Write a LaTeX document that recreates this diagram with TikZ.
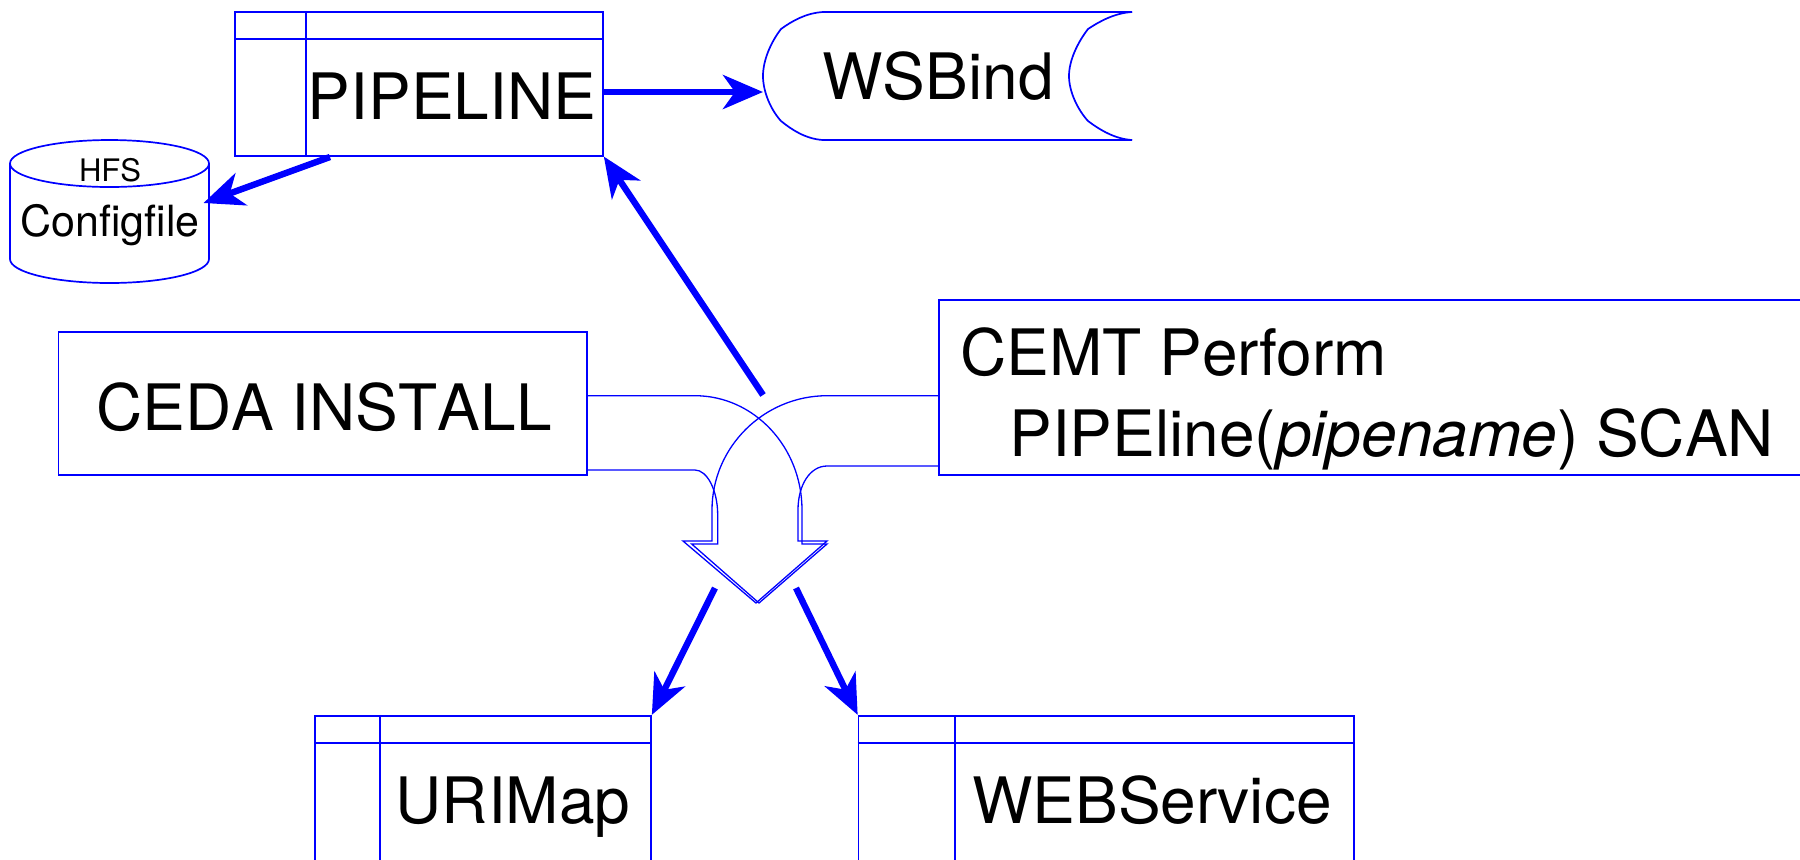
\documentclass[tikz,border=0pt]{standalone}
\usepackage{fontspec}
\setmainfont[Kerning=Off]{TeX Gyre Heros}
\usetikzlibrary{arrows.meta}
\tikzset{
	outline/.style={draw=blue,line width=0.85pt},%
	tablebox/.style={outline,inner sep=0pt},%
	flow/.style={blue,line width=3.2pt,-{Stealth[length=20pt,width=17pt,inset=6pt]}},%
	hollow/.style={blue,line width=0.65pt,line join=miter},%
	bigtext/.style={anchor=base,font=\fontsize{32}{38}\selectfont,inner sep=0pt},%
	midtext/.style={anchor=base,font=\fontsize{21.5}{25}\selectfont,inner sep=0pt},%
	smalltext/.style={anchor=base,font=\fontsize{15.5}{18}\selectfont,inner sep=0pt},%
}

\begin{document}
\begin{tikzpicture}[x=0.5pt,y=-0.5pt]
		\useasboundingbox (0,0) rectangle (1800,859);
		\clip (0,0) rectangle (1800,859);
		% Tables {{{
		\node[tablebox,minimum width=184pt,minimum height=72pt] (pipeline) at (419,83.7) {};
		\draw[outline] (pipeline.north west) ++(72,0) -- ++(0,144) (pipeline.north west) ++(0,28.3) -- ++(368,0);
		\node[bigtext] (pipelinetext) at (452,119) {PIPELINE};
		\node[tablebox,minimum width=168pt,minimum height=100pt] (urimap) at (483,815.7) {};
		\draw[outline] (urimap.north west) ++(66,0) -- ++(0,200) (urimap.north west) ++(0,28) -- ++(336,0);
		\node[bigtext] (urimaptext) at (513,823) {URIMap};
		\node[tablebox,minimum width=247.75pt,minimum height=100pt] (webservice) at (1106.25,815.7) {};
		\draw[outline] (webservice.north west) ++(97.5,0) -- ++(0,200) (webservice.north west) ++(0,28) -- ++(495.5,0);
		\node[bigtext] (webservicetext) at (1152,823) {WEBService};
		% }}}
		% Configfile {{{
		\draw[outline] (109.5,163.5) ellipse [x radius=49.75pt,y radius=11.75pt];
		\draw[outline] (10,163.5) -- (10,259) arc [start angle=180,end angle=360,x radius=49.75pt,y radius=12pt] -- (209,163.5);
		\node[smalltext] (hfs) at (110,181) {HFS};
		\node[midtext] (configfile) at (110,236) {Configfile};
		\coordinate (configfilein) at (203.5,203);
		% }}}
		% WSBind {{{
		\draw[outline] (1132,12) -- (823,12) .. controls (806,13) and (792,21) .. (781,29) .. controls (771,42) and (763,60) .. (763,76) .. controls (763,92) and (771,110) .. (781,121) .. controls (792,130) and (806,139) .. (823,140) -- (1132,140);
		\draw[outline] (1132,12) .. controls (1115,13) and (1100,21) .. (1088,29) .. controls (1078,42) and (1069,60) .. (1069,76) .. controls (1069,92) and (1078,110) .. (1088,121) .. controls (1100,130) and (1115,139) .. (1132,140);
		\node[bigtext] (wsbind) at (938,99) {WSBind};
		\coordinate (wsbindin) at (763,92);
		% }}}
		% Commands {{{
		\node[tablebox,minimum width=264.25pt,minimum height=71.5pt] (ceda) at (322.75,403.5) {};
		\node[bigtext] (cedatext) at (324,430) {CEDA INSTALL};
		\node[tablebox,minimum width=440pt,minimum height=87.5pt] (cemt) at (1379,387.5) {};
		\node[bigtext,anchor=base west] (cemtfirst) at (960,375) {CEMT Perform};
		\node[bigtext,anchor=base west] (cemtsecond) at (1009,456) {PIPEline(\textit{pipename}) SCAN};
		% }}}
		% Merge arrows {{{
		\draw[hollow] (ceda.east |- 0,395.7) -- (695,395.7) .. controls (754,395.7) and (802,447) .. (802,510) -- (802,544) -- (827,544) -- (759,603) -- (691.7,544) -- (717.7,544) -- (717.7,515) .. controls (717.7,490) and (707,470) .. (695,470) -- (ceda.east |- 0,470);
		\draw[hollow] (cemt.west |- 0,395.7) -- (827,395.7) .. controls (764,395.7) and (712,447) .. (712,510) -- (712,541) -- (683,541) -- (756,603) -- (827,541) -- (798,541) -- (798,510) .. controls (798,485) and (810,466) .. (827,466) -- (cemt.west |- 0,466);
		% }}}
		% Connectors {{{
		\coordinate (pipelineout) at (330,157);
		\coordinate (scanout) at (763,395);
		\coordinate (leftout) at (715,588);
		\coordinate (rightout) at (796,588);
		\draw[flow] (pipeline.east |- wsbindin) -- (wsbindin);
		\draw[flow] (pipelineout) -- (configfilein);
		\draw[flow] (scanout) -- (pipeline.south east);
		\draw[flow] (leftout) -- (urimap.north east);
		\draw[flow] (rightout) -- (webservice.north west);
		% }}}
	\end{tikzpicture}
\end{document}
